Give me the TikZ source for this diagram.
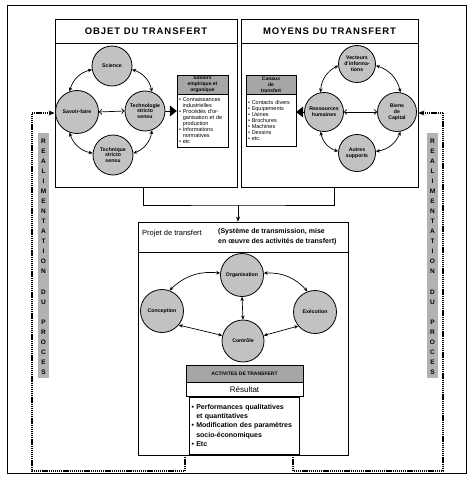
\documentclass[tikz,border=0pt]{standalone}
\usepackage{fontspec}
\setmainfont{Liberation Sans}
\usetikzlibrary{arrows.meta,positioning,calc}

\newcommand{\fsz}[2]{\fontsize{#1}{#2}\selectfont}
\newcommand{\contind}{\phantom{\textbullet\ }}

\begin{document}
\begin{tikzpicture}[x=1pt,y=-1pt,
  frame/.style={draw,line width=0.9pt},
  panel/.style={draw,line width=0.8pt,inner sep=0pt},
  ring/.style={circle,draw,line width=0.8pt,fill=gray!48,minimum size=40pt,inner sep=0pt,align=center,font=\fsz{5.2}{5.8}\bfseries},
  link/.style={{Stealth[length=4pt,width=3.5pt]}-{Stealth[length=4pt,width=3.5pt]},line width=0.7pt},
  openlink/.style={{Straight Barb[length=2.5pt,width=5pt]}-{Straight Barb[length=2.5pt,width=5pt]},line width=0.7pt},
  push/.style={-{Triangle[length=7pt,width=11pt]},line width=0.6pt},
  head/.style={draw,fill=gray!70,inner sep=0pt,align=center,font=\fsz{5}{5.8}\bfseries},
  list/.style={draw,fill=white,inner sep=2pt,align=left,font=\fsz{5.5}{6}},
  feed/.style={line width=1.8pt,dash pattern=on 1.3pt off 0.8pt},
  title/.style={font=\fsz{9.5}{11}\bfseries\addfontfeatures{LetterSpace=10}},
  strip/.style={fill=gray!60,minimum width=11pt,minimum height=245pt,inner sep=0pt},
  vlet/.style={font=\fsz{6.5}{7}\bfseries,inner sep=0pt}
]
  \useasboundingbox (0,0) rectangle (474,481);
  \draw[frame] (7,5) rectangle (466,473);

  % objet du transfert
  \node[panel,minimum width=182pt,minimum height=168pt] (objet) at (146,103) {};
  \node[panel,minimum width=182pt,minimum height=24pt,title] (objT) at (146,31) {OBJET DU TRANSFERT};
  \node[ring,minimum size=43pt] (sf) at (77,112) {Savoir-faire};
  \node[ring] (sci) at (112,66) {Science};
  \node[ring] (tech) at (145,111) {Technologie\\stricto\\sensu};
  \node[ring] (tq) at (113,155) {Technique\\stricto\\sensu};
  \node[head,minimum width=51pt,minimum height=19pt] (sav) at (202.5,84.5) {Savoirs\\empirique et\\organique};
  \node[list,text width=47pt,minimum height=53pt,below=0pt of sav] (savL) {\textbullet\ Connaissances\\\contind industrielles\\\textbullet\ Procédés d'or-\\\contind ganisation et de\\\contind production\\\textbullet\ Informations\\\contind normatives\\\textbullet\ etc};
  \draw[link] (sf.110) to[bend left=30] (sci.190);
  \draw[link] (sci.350) to[bend left=30] (tech.70);
  \draw[link] (tech.290) to[bend left=30] (tq.5);
  \draw[link] (tq.175) to[bend left=30] (sf.250);
  \draw[openlink] (sf.east) -- (tech.west);
  \draw[push] (tech.east) -- (savL.west |- tech.east);

  % moyens du transfert
  \node[panel,minimum width=177pt,minimum height=168pt] (moyens) at (329.5,103) {};
  \node[panel,minimum width=177pt,minimum height=24pt,title] (moyT) at (329.5,31) {MOYENS DU TRANSFERT};
  \node[ring,minimum size=37pt] (vi) at (357,64) {Vecteurs\\d'informa-\\tions};
  \node[ring,minimum size=39pt] (rh) at (324,112) {Ressources\\humaines};
  \node[ring,minimum size=39pt] (bc) at (397,112) {Biens\\de\\Capital};
  \node[ring,minimum size=37pt] (as) at (357,153) {Autres\\supports};
  \node[head,minimum width=50pt,minimum height=19pt] (can) at (271,84.5) {Canaux\\de\\transfert};
  \node[list,text width=46pt,minimum height=52pt,below=0pt of can] (canL) {\textbullet\ Contacts divers\\\textbullet\ Equipements\\\textbullet\ Usines\\\textbullet\ Brochures\\\textbullet\ Machines\\\textbullet\ Dessins\\\textbullet\ etc.};
  \draw[link] (rh.100) to[bend left=30] (vi.185);
  \draw[link] (vi.355) to[bend left=30] (bc.80);
  \draw[link] (bc.280) to[bend left=30] (as.5);
  \draw[link] (as.175) to[bend left=30] (rh.260);
  \draw[openlink] (rh.east) -- (bc.west);
  \draw[push] (rh.west) -- (canL.east |- rh.west);

  % vers le projet
  \coordinate (j) at (238,205);
  \node[panel,minimum width=210pt,minimum height=233pt] (projet) at (243,338.5) {};
  \node[panel,minimum width=210pt,minimum height=30pt] (projH) at (243,237) {};
  \draw[line width=0.6pt] ([xshift=-3pt]objet.south) |- (j) -| ([xshift=4.5pt]moyens.south);
  \draw[line width=0.6pt,-{Stealth[length=5pt,width=4pt]}] (j) -- (j |- projet.north);
  \node[anchor=base west,inner sep=0pt,font=\fsz{7.5}{9}] (projN) at (142,235) {Projet de transfert};
  \node[anchor=north west,align=left,inner sep=0pt,font=\fsz{7}{10}\bfseries] (projD) at (218,228) {(Système de transmission, mise\\en œuvre des activités de transfert)};

  \node[ring,minimum size=43pt] (org) at (242,275) {Organisation};
  \node[ring,minimum size=43pt] (con) at (162,311) {Conception};
  \node[ring,minimum size=43pt] (exe) at (315,312) {Exécution};
  \node[ring,minimum size=42pt] (ctl) at (243,341) {Contrôle};
  \draw[link] (con.70) to[bend left=25] (org.175);
  \draw[link] (org.5) to[bend left=25] (exe.110);
  \draw[link] (con.-40) -- (ctl.165);
  \draw[link] (ctl.15) -- (exe.220);
  \draw[link] (org.south) -- (ctl.north);

  \node[head,minimum width=117pt,minimum height=17pt] (act) at (244.5,373.5) {ACTIVITES DE TRANSFERT};
  \node[draw,fill=white,minimum width=117pt,minimum height=14pt,inner sep=0pt,font=\fsz{8}{9},below=0pt of act] (res) {Résultat};
  \node[list,text width=106pt,minimum height=57pt,font=\fsz{7}{9.3}\bfseries,below=0pt of res] (resL) {\textbullet\ Performances qualitatives\\\contind et quantitatives\\\textbullet\ Modification des paramètres\\\contind socio-économiques\\\textbullet\ Etc};

  % realimentation
  \node[strip] (stripL) at (43.5,255.5) {};
  \node[strip] (stripR) at (432.5,255.5) {};
  \foreach \ch/\yy in {R/141,E/151,A/161,L/171,I/181,M/191,E/201,N/211,T/221,A/231,T/241,I/251,O/261,N/271,D/292,U/302,P/322,R/332,O/342,C/352,E/362,S/372}{
    \node[vlet] at (43.5,\yy) {\ch};
    \node[vlet] at (432.5,\yy) {\ch};
  }
  \coordinate (fbL0) at (185,455);
  \coordinate (fbL1) at (185,471);
  \coordinate (fbL2) at (32,471);
  \coordinate (fbL3) at (32,113);
  \coordinate (fbR0) at (293,455);
  \coordinate (fbR1) at (293,471);
  \coordinate (fbR2) at (443,471);
  \coordinate (fbR3) at (443,113);
  \draw[feed] (fbL0) -- (fbL1) -- (fbL2) -- (fbL3);
  \draw[feed,-{Stealth[length=6pt,width=5pt]}] (fbL3) -- (objet.west |- fbL3);
  \draw[feed] (fbR0) -- (fbR1) -- (fbR2) -- (fbR3);
  \draw[feed,-{Stealth[length=6pt,width=5pt]}] (fbR3) -- (moyens.east |- fbR3);
\end{tikzpicture}
\end{document}
